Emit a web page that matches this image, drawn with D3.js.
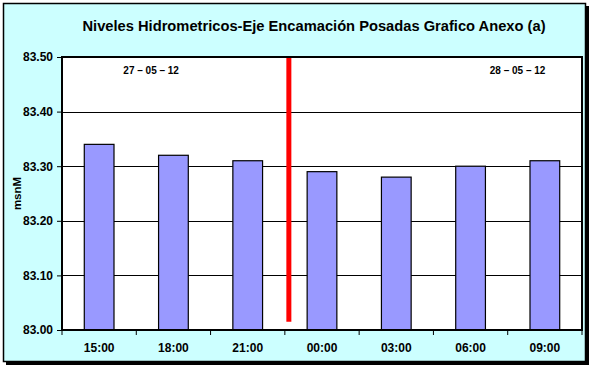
<!DOCTYPE html>
<html>
<head>
<meta charset="utf-8">
<script src="https://cdn.jsdelivr.net/npm/d3@7"></script>
<style>
  body { margin: 0; background: #ffffff; }
  svg text { font-family: Arial, "Liberation Sans", sans-serif; fill: #000; }
</style>
</head>
<body>
<div id="chartdiv"></div>
<script>
// data
const horas = ["15:00", "18:00", "21:00", "00:00", "03:00", "06:00", "09:00"];
const niveles = [83.34, 83.32, 83.31, 83.29, 83.28, 83.30, 83.31];
const yTicks = [83.00, 83.10, 83.20, 83.30, 83.40, 83.50];
const fechas = ["27 – 05 – 12", "28 – 05 – 12"];
const fechaPos = ["15:00", "06:00"];   // roughly where each date label sits
const corte = {despues: "21:00", desde: 83.50, hasta: 83.015};  // red day separator

const W = 594, H = 368;
let margin = {top: 57, bottom: 38, left: 62, right: 12};
let width = W - margin.left - margin.right;
let height = H - margin.top - margin.bottom;

let svg = d3.select("#chartdiv").append("svg")
            .attr("width", W)
            .attr("height", H);

// outer frame with shadow
svg.append("rect")
   .attr("x", 6).attr("y", 6).attr("width", 583).attr("height", 359)
   .attr("fill", "#000");
svg.append("rect")
   .attr("x", 3.5).attr("y", 3.5).attr("width", 582).attr("height", 358)
   .attr("fill", "#CCFFFF")
   .attr("stroke", "#000")
   .attr("stroke-width", 1.5);

svg.append("text")
   .attr("x", 314)
   .attr("y", 31)
   .attr("text-anchor", "middle")
   .style("font-size", "14.7px")
   .style("font-weight", "bold")
   .text("Niveles Hidrometricos-Eje Encamación Posadas Grafico Anexo (a)");

let g = svg.append("g")
           .attr("transform", `translate(${margin.left}, ${margin.top})`);

let x = d3.scaleBand()
          .domain(horas)
          .range([0, width])
          .paddingInner(0.6)
          .paddingOuter(0.3);

let y = d3.scaleLinear()
          .domain([83.00, 83.50])
          .range([height, 0]);

g.append("rect")
 .attr("width", width)
 .attr("height", height)
 .attr("fill", "white");

// gridlines
g.selectAll(".grid")
 .data(yTicks.slice(1, -1))
 .enter()
 .append("line")
 .attr("class", "grid")
 .attr("x1", 0).attr("x2", width)
 .attr("y1", d => Math.round(y(d)) + 0.5)
 .attr("y2", d => Math.round(y(d)) + 0.5)
 .attr("stroke", "#000")
 .attr("stroke-width", 1);

g.selectAll(".bar")
 .data(niveles)
 .enter()
 .append("rect")
 .attr("class", "bar")
 .attr("x", (d, i) => x(horas[i]))
 .attr("y", d => y(d))
 .attr("width", x.bandwidth())
 .attr("height", d => height - y(d))
 .attr("fill", "#9999FF")
 .attr("stroke", "#000")
 .attr("stroke-width", 1.2);

// red separator between the two days
let step = x.step();
let xc = x(corte.despues) + x.bandwidth() + (step - x.bandwidth()) / 2 + 4;
g.append("line")
 .attr("x1", xc).attr("x2", xc)
 .attr("y1", y(corte.desde))
 .attr("y2", y(corte.hasta))
 .attr("stroke", "#FF0000")
 .attr("stroke-width", 5);

// plot border
g.append("rect")
 .attr("width", width)
 .attr("height", height)
 .attr("fill", "none")
 .attr("stroke", "#000")
 .attr("stroke-width", 2);

// y axis
let yAxis = g.append("g")
             .call(d3.axisLeft(y).tickValues(yTicks).tickFormat(d3.format(".2f")).tickSize(5).tickSizeOuter(0));
yAxis.select(".domain").remove();
yAxis.selectAll("line").attr("stroke", "#000");
yAxis.selectAll("text")
     .attr("x", -9)
     .style("font-size", "12px")
     .style("font-weight", "bold")
     .style("font-family", "Arial, 'Liberation Sans', sans-serif");

// x axis: ticks between categories
let bounds = horas.map((h, i) => i * step).concat([width]);
g.selectAll(".xtick")
 .data(bounds)
 .enter()
 .append("line")
 .attr("x1", d => d).attr("x2", d => d)
 .attr("y1", height).attr("y2", height + 5)
 .attr("stroke", "#000");

g.selectAll(".xlabel")
 .data(horas)
 .enter()
 .append("text")
 .attr("x", d => x(d) + x.bandwidth() / 2)
 .attr("y", height + 22)
 .attr("text-anchor", "middle")
 .style("font-size", "12px")
 .style("font-weight", "bold")
 .text(d => d);

g.append("text")
 .attr("transform", `translate(${-41}, ${height / 2}) rotate(-90)`)
 .attr("text-anchor", "middle")
 .style("font-size", "11.5px")
 .style("font-weight", "bold")
 .text("msnM");

// date annotations
g.selectAll(".fecha")
 .data(fechas)
 .enter()
 .append("text")
 .attr("x", (d, i) => x(fechaPos[i]) + x.bandwidth() / 2 + (i == 0 ? 52 : 47))
 .attr("y", 17)
 .attr("text-anchor", "middle")
 .style("font-size", "10px")
 .style("font-weight", "bold")
 .text(d => d);
</script>
</body>
</html>
